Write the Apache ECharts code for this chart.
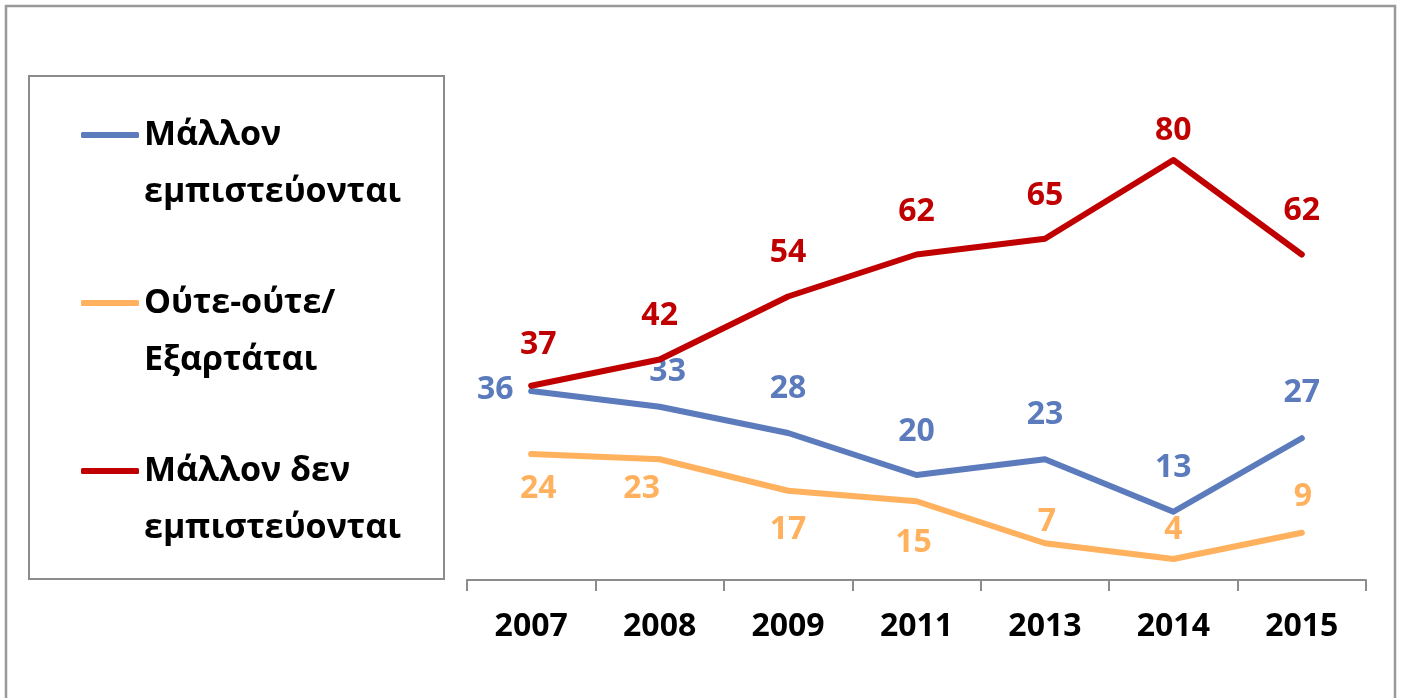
<!DOCTYPE html>
<html>
<head>
<meta charset="utf-8">
<script src="https://cdn.jsdelivr.net/npm/echarts@6/dist/echarts.min.js"></script>
<style>
html,body{margin:0;padding:0;background:#fff;}
#chart{width:1403px;height:698px;}
</style>
</head>
<body>
<div id="chart"></div>
<script>
// ---- data ----
const categories = ['2007', '2008', '2009', '2011', '2013', '2014', '2015'];
const seriesNames = ['Μάλλον εμπιστεύονται', 'Ούτε-ούτε/ Εξαρτάται', 'Μάλλον δεν εμπιστεύονται'];
const legendLines = [['Μάλλον', 'εμπιστεύονται'], ['Ούτε-ούτε/', 'Εξαρτάται'], ['Μάλλον δεν', 'εμπιστεύονται']];
const trustValues = [36, 33, 28, 20, 23, 13, 27];
const neitherValues = [24, 23, 17, 15, 7, 4, 9];
const distrustValues = [37, 42, 54, 62, 65, 80, 62];

// ---- styles ----
const FONT = '"Open Sans", "Noto Sans", sans-serif';
const colors = ['#5B7BBD', '#FFB15E', '#C00000'];
// label offsets [dx, dy] relative to point (styling only)
const labelOffsets = [
  [[-36, -1], [8, -35], [0, -44], [0, -43], [0, -44], [0, -44], [0, -45]],
  [[7, 35], [-18, 30], [0, 39], [-3, 42], [2, -21], [0, -29], [1, -36]],
  [[7, -41], [0, -43.5], [0, -43.5], [0, -42.5], [0, -43], [0, -29], [0, -43.5]]
];
const valueSets = [trustValues, neitherValues, distrustValues];

const chart = echarts.init(document.getElementById('chart'));

const series = valueSets.map((vals, si) => ({
  name: seriesNames[si],
  type: 'line',
  data: vals.map((v, i) => ({
    value: v,
    label: { offset: labelOffsets[si][i] }
  })),
  symbol: 'circle',
  symbolSize: 5,
  showSymbol: true,
  lineStyle: { color: colors[si], width: 6, cap: 'round', join: 'round' },
  itemStyle: { color: colors[si] },
  label: {
    show: true,
    position: 'inside',
    color: colors[si],
    fontFamily: FONT,
    fontWeight: 'bold',
    fontSize: 32
  },
  emphasis: { disabled: true },
  silent: true,
  z: si === 2 ? 3 : 2
}));

chart.setOption({
  animation: false,
  backgroundColor: '#fff',
  grid: { left: 467, right: 37, top: 55, bottom: 118 },
  xAxis: {
    type: 'category',
    data: categories,
    boundaryGap: true,
    axisLine: { lineStyle: { color: '#8c8c8c', width: 2 } },
    axisTick: { show: true, length: 11, lineStyle: { color: '#8c8c8c', width: 2 } },
    axisLabel: { color: '#000', fontFamily: FONT, fontWeight: 'bold', fontSize: 32, margin: 31 }
  },
  yAxis: {
    type: 'value', min: 0, max: 100, show: false,
    splitLine: { show: false }
  },
  legend: {
    orient: 'vertical',
    left: 76,
    top: 56,
    itemGap: 20,
    itemWidth: 58,
    itemHeight: 6,
    icon: 'roundRect',
    selectedMode: false,
    data: seriesNames,
    formatter: function (name) {
      const idx = seriesNames.indexOf(name);
      const l = legendLines[idx];
      return '{b|\u00a0}\n{t|' + l[0] + '}\n{t|' + l[1] + '}';
    },
    textStyle: {
      rich: {
        b: { fontSize: 34, lineHeight: 57, fontFamily: FONT },
        t: { fontSize: 34, lineHeight: 57, fontFamily: FONT, fontWeight: 'bold', color: '#000' }
      }
    }
  },
  graphic: [
    { type: 'rect', silent: true, shape: { x: 6, y: 6, width: 1389, height: 720 },
      style: { fill: 'none', stroke: '#999', lineWidth: 2.5 } },
    { type: 'rect', silent: true, shape: { x: 29, y: 76, width: 415, height: 503 },
      style: { fill: 'none', stroke: '#8c8c8c', lineWidth: 2 } }
  ],
  series: series
});
</script>
</body>
</html>
